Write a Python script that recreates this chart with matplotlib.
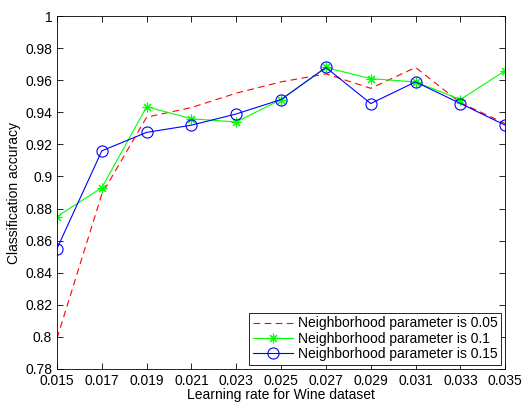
import matplotlib
matplotlib.use("Agg")
import matplotlib.pyplot as plt

plt.rcParams['font.family'] = ['Liberation Sans', 'DejaVu Sans']

learning_rate = [0.015, 0.017, 0.019, 0.021, 0.023, 0.025, 0.027, 0.029, 0.031, 0.033, 0.035]
acc_005 = [0.799, 0.889, 0.937, 0.943, 0.952, 0.959, 0.964, 0.955, 0.968, 0.946, 0.933]
acc_01 = [0.875, 0.893, 0.9435, 0.936, 0.934, 0.948, 0.968, 0.961, 0.959, 0.948, 0.966]
acc_015 = [0.855, 0.916, 0.9275, 0.932, 0.939, 0.948, 0.968, 0.9455, 0.959, 0.9455, 0.932]

fig = plt.figure(figsize=(5.23, 4.04), dpi=100)
ax = fig.add_axes([0.109, 0.087, 0.857, 0.873])

ax.plot(learning_rate, acc_005, color='red', linestyle=(0, (6, 4)), linewidth=0.8,
        label='Neighborhood parameter is 0.05')
ax.plot(learning_rate, acc_01, color='#00ff00', linewidth=0.8, marker=(8, 2, 0), markersize=7,
        markeredgewidth=0.8, label='Neighborhood parameter is 0.1')
ax.plot(learning_rate, acc_015, color='blue', linewidth=0.8, marker='o', markersize=8,
        markerfacecolor='none', markeredgewidth=0.8, label='Neighborhood parameter is 0.15')

ax.set_xlim(0.015, 0.035)
ax.set_ylim(0.78, 1.0)
ax.set_xticks(learning_rate)
ax.set_xticklabels([f'{v:.3f}' for v in learning_rate])
ax.set_yticks([0.78 + 0.02 * i for i in range(12)])
ax.set_yticklabels(['0.78', '0.8', '0.82', '0.84', '0.86', '0.88', '0.9', '0.92', '0.94',
                    '0.96', '0.98', '1'])
ax.tick_params(direction='in', top=True, right=True, labelsize=10, length=4, width=0.6)
ax.tick_params(axis='x', pad=4)
for s in ax.spines.values():
    s.set_linewidth(0.6)

ax.set_xlabel('Learning rate for Wine dataset', fontsize=10, labelpad=0)
ax.set_ylabel('Classification accuracy', fontsize=10, labelpad=3)

leg = ax.legend(loc='lower right', fontsize=10, fancybox=False, framealpha=1,
                edgecolor='black', borderaxespad=0.3, handlelength=2.9,
                labelspacing=0.1, borderpad=0.25, handletextpad=0.35)
leg.get_frame().set_linewidth(0.6)

fig.savefig('out.png', dpi=100)
